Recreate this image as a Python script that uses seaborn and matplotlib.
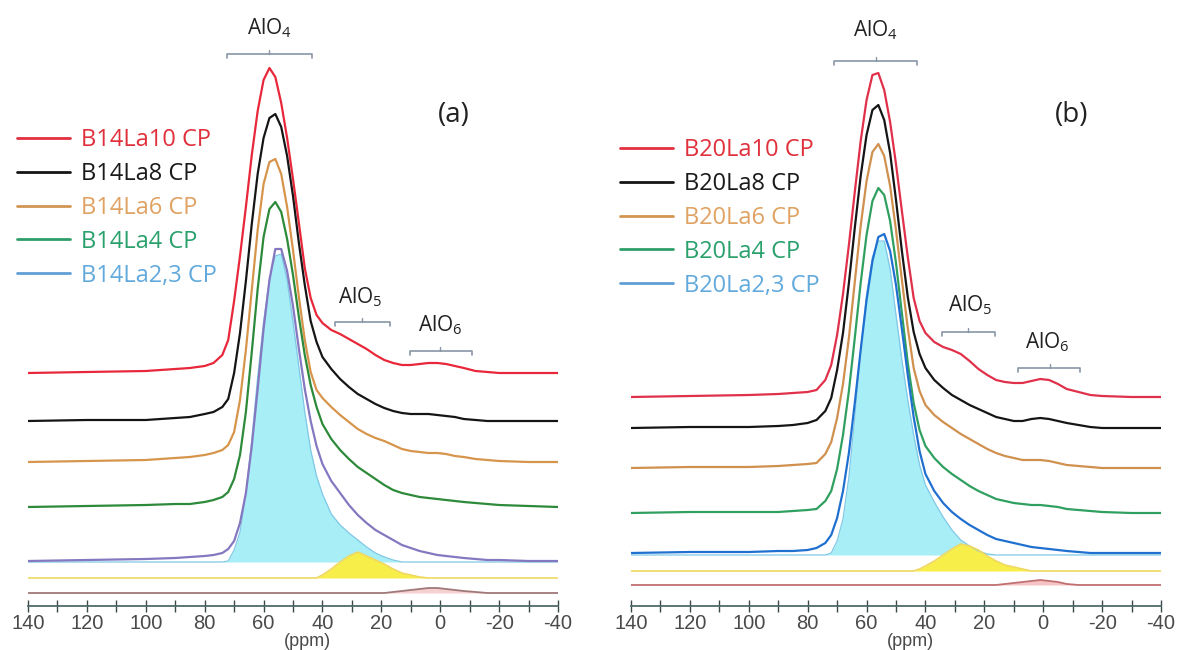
import numpy as np
import pandas as pd
import seaborn as sns
import matplotlib.pyplot as plt
from matplotlib.lines import Line2D

# chemical shift grid (ppm) shared by all traces
ppm = [140, 120, 100, 90, 85, 80, 77, 74, 72, 70, 68, 66, 64, 62, 60, 58,
       56, 54, 52, 50, 48, 46, 44, 42, 40, 37, 34, 31, 28, 25, 22, 19, 16,
       13, 10, 7, 4, 1, -2, -5, -8, -12, -16, -20, -30, -40]

# ---- panel (a): B14 series, intensity above each trace's own baseline ----
a_red = [0, 1, 2, 4, 5, 7, 10, 18, 33, 72, 117, 166, 218, 262, 293, 305,
         296, 270, 235, 194, 150, 105, 75, 58, 50, 43, 39, 34, 29, 24, 18, 13, 10,
         8, 8, 9, 10, 10, 9, 7, 5, 2, 1, 0, 0, 0]
a_black = [0, 1, 1, 3, 4, 7, 9, 14, 22, 48, 88, 140, 197, 247, 283, 303,
           307, 294, 265, 225, 178, 136, 100, 79, 64, 52, 42, 34, 27, 22, 17, 13, 10,
           8, 7, 7, 7, 6, 5, 4, 2, 1, 0, 0, 0, 0]
a_orange = [0, 1, 2, 4, 5, 7, 9, 12, 17, 30, 62, 112, 172, 232, 278, 300,
            303, 288, 255, 212, 165, 122, 90, 72, 64, 55, 47, 40, 33, 28, 24, 21, 17,
            13, 11, 10, 9, 9, 8, 6, 5, 3, 2, 1, 0, 0]
a_green = [0, 1, 2, 3, 3, 5, 7, 10, 15, 28, 52, 95, 155, 218, 270, 298,
           305, 295, 268, 232, 190, 152, 122, 100, 83, 68, 57, 48, 40, 34, 28, 22, 17,
           14, 12, 10, 9, 8, 7, 6, 5, 4, 3, 2, 1, 0]
a_sum = [0, 1, 2, 3, 4, 5, 6, 8, 12, 20, 38, 68, 115, 172, 232, 281,
         312, 312, 290, 255, 212, 172, 140, 115, 97, 80, 68, 56, 46, 38, 31, 26, 21,
         16, 13, 10, 8, 6, 5, 4, 3, 2, 1, 1, 0, 0]
a_alo4 = [0, 0, 0, 0, 0, 0, 0, 0, 1, 12, 30, 68, 122, 185, 240, 283,
          306, 308, 282, 240, 195, 150, 112, 86, 68, 48, 37, 29, 22, 15, 9, 5, 2,
          0, 0, 0, 0, 0, 0, 0, 0, 0, 0, 0, 0, 0]
a_alo5 = [0, 0, 0, 0, 0, 0, 0, 0, 0, 0, 0, 0, 0, 0, 0, 0,
          0, 0, 0, 0, 0, 0, 0, 0, 3, 9, 16, 22, 26, 22, 18, 14, 9,
          5, 3, 1, 0, 0, 0, 0, 0, 0, 0, 0, 0, 0]
a_alo6 = [0, 0, 0, 0, 0, 0, 0, 0, 0, 0, 0, 0, 0, 0, 0, 0,
          0, 0, 0, 0, 0, 0, 0, 0, 0, 0, 0, 0, 0, 0, 0, 0, 1,
          2, 3, 4, 5, 5, 4, 3, 2, 1, 0, 0, 0, 0]
a_offsets = [233, 185, 144, 99, 45, 44, 28, 13]

# ---- panel (b): B20 series ----
b_red = [0, 1, 2, 3, 4, 5, 7, 17, 32, 62, 103, 152, 205, 256, 297, 322,
         324, 307, 275, 233, 186, 140, 99, 76, 64, 55, 50, 47, 43, 36, 28, 22, 17,
         15, 14, 14, 16, 18, 17, 13, 8, 5, 2, 1, 0, 0]
b_black = [0, 1, 1, 2, 3, 5, 8, 17, 30, 58, 95, 145, 200, 252, 293, 318,
           323, 308, 275, 228, 177, 131, 96, 74, 60, 48, 40, 33, 28, 23, 19, 15, 11,
           9, 7, 7, 9, 10, 9, 7, 5, 3, 1, 0, 0, 0]
b_orange = [0, 1, 1, 2, 3, 4, 5, 14, 26, 50, 84, 130, 186, 242, 287, 316,
            324, 312, 282, 238, 188, 140, 100, 77, 63, 53, 46, 40, 34, 29, 24, 19, 15,
            12, 10, 8, 8, 8, 7, 5, 3, 2, 1, 0, 0, 0]
b_green = [0, 1, 1, 1, 2, 3, 4, 12, 22, 44, 78, 122, 175, 230, 278, 312,
           325, 318, 292, 250, 200, 150, 110, 83, 67, 55, 46, 39, 33, 27, 22, 18, 14,
           12, 10, 9, 8, 8, 7, 6, 4, 3, 2, 1, 0, 0]
b_blue = [0, 1, 1, 2, 2, 3, 5, 10, 18, 35, 62, 100, 150, 203, 253, 292,
          316, 319, 302, 268, 224, 178, 136, 102, 79, 62, 50, 41, 34, 28, 23, 18, 14,
          12, 10, 8, 6, 5, 4, 3, 2, 1, 0, 0, 0, 0]
b_alo4 = [0, 0, 0, 0, 0, 0, 0, 0, 2, 14, 36, 78, 138, 204, 260, 298,
          314, 314, 286, 240, 195, 155, 120, 90, 70, 53, 38, 25, 15, 9, 4, 1, 0,
          0, 0, 0, 0, 0, 0, 0, 0, 0, 0, 0, 0, 0]
b_alo5 = [0, 0, 0, 0, 0, 0, 0, 0, 0, 0, 0, 0, 0, 0, 0, 0,
          0, 0, 0, 0, 0, 0, 0, 2, 5, 10, 16, 22, 27, 25, 21, 15, 10,
          6, 4, 2, 0, 0, 0, 0, 0, 0, 0, 0, 0, 0]
b_alo6 = [0, 0, 0, 0, 0, 0, 0, 0, 0, 0, 0, 0, 0, 0, 0, 0,
          0, 0, 0, 0, 0, 0, 0, 0, 0, 0, 0, 0, 0, 0, 0, 0, 0,
          1, 2, 3, 4, 5, 4, 3, 1, 0, 0, 0, 0, 0]
b_offsets = [209, 178, 138, 93, 53, 51, 35, 21]

a_labels = ['B14La10 CP', 'B14La8 CP', 'B14La6 CP', 'B14La4 CP', 'B14La2,3 CP']
b_labels = ['B20La10 CP', 'B20La8 CP', 'B20La6 CP', 'B20La4 CP', 'B20La2,3 CP']

major_ticks = [140, 120, 100, 80, 60, 40, 20, 0, -20, -40]
tick_labels = ['140', '120', '100', '80', '60', '40', '20', '0', '-20', '-40']
minor_ticks = [130, 110, 90, 70, 50, 30, 10, -10, -30]

# bracket spans (ppm): left, right, centre
a_brackets = [(72.4, 43.5, 58.1), (35.7, 17.0, 26.5), (10.2, -10.8, 0.0)]
b_brackets = [(71.0, 42.9, 56.8), (34.4, 16.4, 25.5), (8.5, -12.5, -2.3)]

legend_line_colors = ['#e23040', '#151515', '#d39552', '#2f9f6a', '#5f9fd6']
legend_text_colors = ['#e0303c', '#1a1a1a', '#e0a262', '#2aa06c', '#62aadc']

sns.set_theme(style='white')
plt.rcParams['font.family'] = ['Open Sans', 'DejaVu Sans']
plt.rcParams['mathtext.default'] = 'regular'

fig = plt.figure(figsize=(11.81, 6.5), dpi=100)
W, H = 1181, 650


def spectrum(ax, vals, base, color, lw, z):
    df = pd.DataFrame({'ppm': ppm, 'y': np.array(vals) + base})
    sns.lineplot(data=df, x='ppm', y='y', color=color, lw=lw, ax=ax,
                 sort=False, estimator=None, zorder=z, legend=False)


def draw_panel(x0, axis_px, series, offsets, colors, fill_cols, brackets,
               bracket_y, label_pos, tag, tag_pos, legend_labels, legend_anchor):
    ax = fig.add_axes([x0 / W, (H - axis_px) / H, 530 / W, axis_px / H])
    ax.set_xlim(140, -40)
    ax.set_ylim(0, axis_px)

    red, black, orange, green, top, alo4, alo5, alo6 = series
    # decomposition fills
    ax.fill_between(ppm, offsets[5], np.array(alo4) + offsets[5],
                    color=fill_cols[0], lw=0, zorder=1)
    spectrum(ax, alo4, offsets[5], fill_cols[1], 0.9, 2)
    ax.fill_between(ppm, offsets[6], np.array(alo5) + offsets[6],
                    color=fill_cols[2], lw=0, zorder=1)
    spectrum(ax, alo5, offsets[6], fill_cols[3], 1.2, 2)
    ax.fill_between(ppm, offsets[7], np.array(alo6) + offsets[7],
                    color=fill_cols[4], lw=0, zorder=1)
    spectrum(ax, alo6, offsets[7], fill_cols[5], 1.3, 2)

    for vals, base, col in zip([red, black, orange, green, top], offsets[:5], colors):
        spectrum(ax, vals, base, col, 1.6, 3)

    # peak assignment brackets
    for (l, r, c), by, (tx, ty, txt) in zip(brackets, bracket_y, label_pos):
        ax.plot([l, l, r, r], [by - 4, by, by, by - 4], color='#8896a6', lw=1.2)
        ax.plot([c, c], [by, by + 4], color='#8896a6', lw=1.0)
        ax.text(tx, ty, txt, ha='center', va='center', fontsize=15, color='#222222')

    ax.text(tag_pos[0], tag_pos[1], tag, ha='center', va='center', fontsize=20,
            color='#222222')

    # axis styling
    sns.despine(ax=ax, left=True)
    ax.spines['bottom'].set_color('#4f6a6a')
    ax.spines['bottom'].set_linewidth(1.3)
    ax.set_yticks([])
    ax.set_xticks(major_ticks)
    ax.set_xticklabels(tick_labels, family=['Liberation Sans', 'DejaVu Sans'],
                       fontsize=14.5, color='#4a4a4a')
    ax.set_xticks(minor_ticks, minor=True)
    ax.tick_params(axis='x', which='both', direction='inout', length=8, width=1,
                   color='#3c4848', pad=1.5, bottom=True)
    ax.set_xlabel('')
    ax.set_ylabel('')
    ax.text(45, -36, '(ppm)', ha='center', va='center', fontsize=13,
            family=['Liberation Sans', 'DejaVu Sans'], color='#4a4a4a')
    ax.patch.set_alpha(0)

    handles = [Line2D([], [], color=c, lw=2) for c in legend_line_colors]
    leg = fig.legend(handles, legend_labels, loc='upper left',
                     bbox_to_anchor=legend_anchor, bbox_transform=fig.transFigure,
                     frameon=False, fontsize=17, handlelength=2.25,
                     handletextpad=0.45, labelspacing=0.42, borderpad=0,
                     borderaxespad=0)
    for t, c in zip(leg.get_texts(), legend_text_colors):
        t.set_color(c)
    return ax


draw_panel(28, 606,
           [a_red, a_black, a_orange, a_green, a_sum, a_alo4, a_alo5, a_alo6],
           a_offsets,
           ['#e8283a', '#151515', '#d7954c', '#2d8a3a', '#8478c0'],
           ['#a8eef7', '#80c8e6', '#f7ee4a', '#f0d860', '#f6d0d0', '#a07878'],
           a_brackets, [552, 284, 255],
           [(58.1, 578, r'AlO$_4$'), (27.2, 309, r'AlO$_5$'), (0.0, 281, r'AlO$_6$')],
           '(a)', (-4.5, 491), a_labels, (17 / W, 1 - 128 / H))

draw_panel(631, 606,
           [b_red, b_black, b_orange, b_green, b_blue, b_alo4, b_alo5, b_alo6],
           b_offsets,
           ['#e0304a', '#151515', '#d0904e', '#30a060', '#2070d0'],
           ['#a8eef7', '#80c8e6', '#f7ee4a', '#f0d860', '#f6c4c4', '#c07070'],
           b_brackets, [545, 274, 238],
           [(56.8, 576, r'AlO$_4$'), (24.8, 301, r'AlO$_5$'), (-1.3, 264, r'AlO$_6$')],
           '(b)', (-9.5, 491), b_labels, (620 / W, 1 - 138 / H))

fig.savefig('out.png', dpi=100)
